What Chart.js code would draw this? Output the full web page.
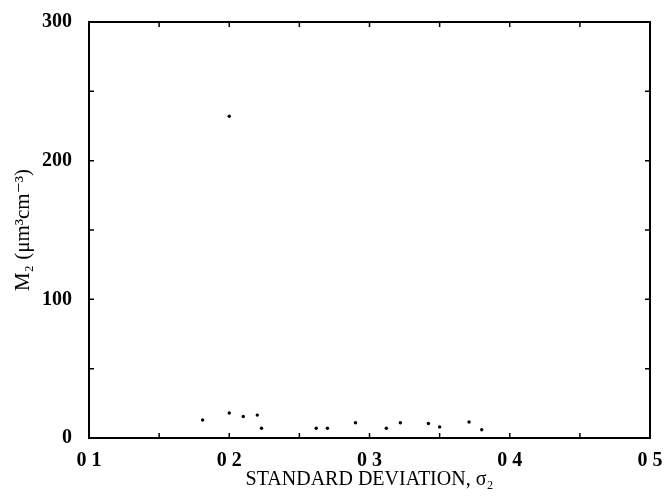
<!DOCTYPE html>
<html lang="en">
<head>
    <meta charset="UTF-8">
    <title>M2 vs standard deviation</title>
    <script src="https://cdn.jsdelivr.net/npm/chart.js"></script>
    <style>
        html, body { margin: 0; padding: 0; background: #fff; }
        #wrap { width: 666px; height: 503px; }
    </style>
</head>
<body>
    <div id="wrap"><canvas id="m2Chart" width="666" height="503"></canvas></div>
    <script>
        // values
        const sigma = [0.181, 0.200, 0.200, 0.210, 0.220, 0.223, 0.262, 0.270, 0.290, 0.312, 0.322, 0.342, 0.350, 0.371, 0.380];
        const m2 = [13, 232, 18, 15.5, 16.5, 7, 7, 7, 11, 7, 11, 10.5, 8, 11.5, 6];

        const xLabels = ['0 1', '0 2', '0 3', '0 4', '0 5'];
        const yLabels = ['0', '100', '200', '300'];

        const serif = '"Liberation Serif", "DejaVu Serif", serif';

        // frame + inward ticks on all four sides
        const frameTicks = {
            id: 'frameTicks',
            afterDraw(chart) {
                const ctx = chart.ctx;
                const a = chart.chartArea;
                const xs = chart.scales.x, ys = chart.scales.y;
                const len = 5;
                ctx.save();
                ctx.strokeStyle = '#000';
                ctx.lineWidth = 2;
                ctx.strokeRect(a.left, a.top, a.right - a.left, a.bottom - a.top);
                ctx.lineWidth = 1.5;
                ctx.beginPath();
                xs.ticks.forEach(t => {
                    const px = xs.getPixelForValue(t.value);
                    ctx.moveTo(px, a.bottom); ctx.lineTo(px, a.bottom - len);
                    ctx.moveTo(px, a.top); ctx.lineTo(px, a.top + len);
                });
                ys.ticks.forEach(t => {
                    const py = ys.getPixelForValue(t.value);
                    ctx.moveTo(a.left, py); ctx.lineTo(a.left + len, py);
                    ctx.moveTo(a.right, py); ctx.lineTo(a.right - len, py);
                });
                ctx.stroke();
                ctx.restore();
            }
        };

        const points = sigma.map((s, i) => ({ x: s, y: m2[i] }));

        new Chart(document.getElementById('m2Chart').getContext('2d'), {
            type: 'scatter',
            data: {
                datasets: [{
                    data: points,
                    pointStyle: 'circle',
                    pointRadius: 1.7,
                    pointBackgroundColor: '#000',
                    pointBorderColor: '#000',
                    pointBorderWidth: 0
                }]
            },
            options: {
                responsive: false,
                animation: false,
                layout: { padding: { top: 22, right: 16, left: 0, bottom: 0 } },
                plugins: { legend: { display: false }, tooltip: { enabled: false } },
                scales: {
                    x: {
                        type: 'linear',
                        min: 0.1,
                        max: 0.5,
                        grid: { display: false },
                        border: { display: false },
                        afterFit: s => { s.height = 65; },
                        ticks: {
                            stepSize: 0.05,
                            autoSkip: false,
                            maxRotation: 0,
                            padding: 3,
                            color: '#000',
                            font: { family: serif, size: 20, weight: 'bold' },
                            callback: v => {
                                const k = Math.round(v * 100);
                                return k % 10 === 0 ? xLabels[k / 10 - 1] : '';
                            }
                        },
                        title: {
                            display: true,
                            text: 'STANDARD DEVIATION, σ₂',
                            color: '#000',
                            font: { family: serif, size: 20 },
                            padding: { top: 0, bottom: 11 }
                        }
                    },
                    y: {
                        min: 0,
                        max: 300,
                        grid: { display: false },
                        border: { display: false },
                        afterFit: s => { s.width = 89; },
                        ticks: {
                            stepSize: 50,
                            autoSkip: false,
                            padding: 9,
                            color: '#000',
                            font: { family: serif, size: 20, weight: 'bold' },
                            callback: v => {
                                const k = Math.round(v);
                                return k % 100 === 0 ? yLabels[k / 100] : '';
                            }
                        },
                        title: {
                            display: true,
                            text: 'M₂ (μm³cm⁻³)',
                            color: '#000',
                            font: { family: serif, size: 21 },
                            padding: { top: 11, bottom: 0 }
                        }
                    }
                }
            },
            plugins: [frameTicks]
        });
    </script>
</body>
</html>
